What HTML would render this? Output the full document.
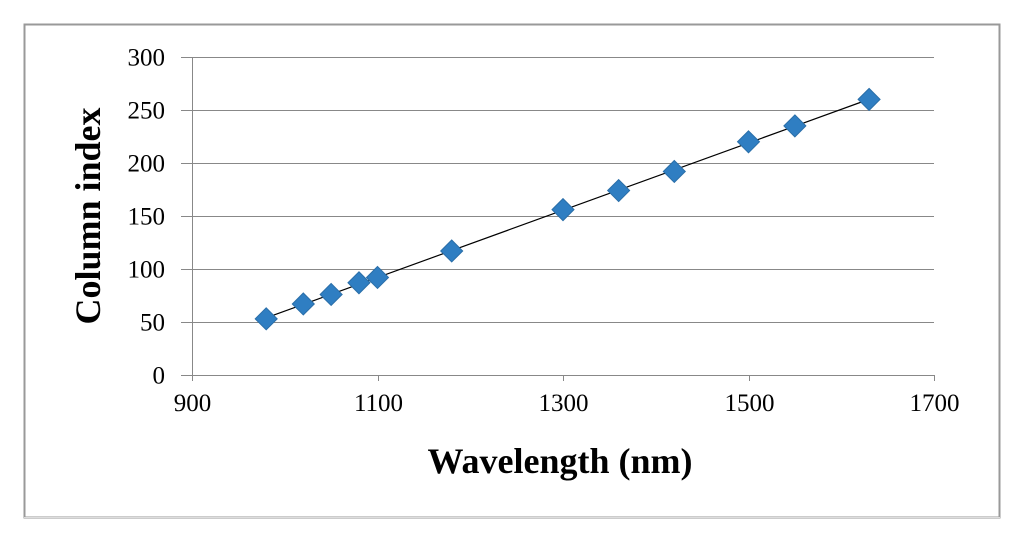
<!DOCTYPE html>
<html><head><meta charset="utf-8"><style>
body{margin:0;background:#fff;width:1024px;height:541px;overflow:hidden}
svg text{font-family:"Liberation Serif",serif;fill:#000}
</style></head><body>
<svg width="1024" height="541">
<rect x="24.5" y="24.5" width="975" height="493" fill="#fff" stroke="#999" stroke-width="2"/>
<line x1="24" y1="517.5" x2="1000" y2="517.5" stroke="#ddd" stroke-width="1"/>
<g id="grid"></g>
<g id="axes"></g>
<g id="trend"></g>
<g id="pts"></g>
<text x="560" y="473" font-size="36" font-weight="bold" text-anchor="middle">Wavelength (nm)</text>
<text transform="translate(100,216) rotate(-90)" font-size="36" font-weight="bold" text-anchor="middle">Column index</text>
</svg>
<script>
const wavelengths=[980,1020,1050,1080,1100,1180,1300,1360,1420,1500,1550,1630];
const columnIndex=[53,67,76,87,92,117,156,174,192,220,235,260];
const xTicks=[900,1100,1300,1500,1700];
const yTicks=[0,50,100,150,200,250,300];
const X0=192,X1=934,Y0=375,Y1=57;
const xs=v=>X0+(v-900)/800*(X1-X0);
const ys=v=>Y0-v/300*(Y0-Y1);
const NS="http://www.w3.org/2000/svg";
function mk(t,a,p){const e=document.createElementNS(NS,t);for(const k in a)e.setAttribute(k,a[k]);p.appendChild(e);return e;}
const grid=document.getElementById('grid'),axes=document.getElementById('axes');
yTicks.forEach(v=>{const y=Math.round(ys(v))+0.5;
 if(v>0){const g=mk('line',{x1:X0,y1:y,x2:X1,y2:y,stroke:'#888','stroke-width':1},grid);
 
 }
 mk('line',{x1:181,y1:y,x2:X0,y2:y,stroke:'#888'},axes);
 const t=mk('text',{x:165,y:y+8,'font-size':25,'text-anchor':'end'},axes);t.textContent=v;
 
 
});
xTicks.forEach(v=>{const x=Math.round(xs(v))+0.5;
 mk('line',{x1:x,y1:Y0,x2:x,y2:Y0+6,stroke:'#888'},axes);
 const t=mk('text',{x:x,y:411,'font-size':25,'text-anchor':'middle'},axes);t.textContent=v;
 
 
});
mk('line',{x1:X0+0.5,y1:Y1,x2:X0+0.5,y2:Y0,stroke:'#888'},axes);
mk('line',{x1:X0,y1:Y0+0.5,x2:X1,y2:Y0+0.5,stroke:'#888'},axes);
const n=wavelengths.length;let sx=0,sy=0,sxx=0,sxy=0;
for(let i=0;i<n;i++){sx+=wavelengths[i];sy+=columnIndex[i];sxx+=wavelengths[i]**2;sxy+=wavelengths[i]*columnIndex[i];}
const m=(n*sxy-sx*sy)/(n*sxx-sx*sx),b=(sy-m*sx)/n;
const xa=wavelengths[0],xb=wavelengths[n-1];
const tl=mk('line',{x1:xs(xa),y1:ys(m*xa+b),x2:xs(xb),y2:ys(m*xb+b),stroke:'#000','stroke-width':1.2},document.getElementById('trend'));


const pts=document.getElementById('pts');
wavelengths.forEach((w,i)=>{const cx=xs(w),cy=ys(columnIndex[i]),r=11;
 const p=mk('polygon',{points:`${cx},${cy-r} ${cx+r},${cy} ${cx},${cy+r} ${cx-r},${cy}`,fill:'#2f7ec2',stroke:'#2a6ea8','stroke-width':1},pts);
 
 
});
</script>
</body></html>
